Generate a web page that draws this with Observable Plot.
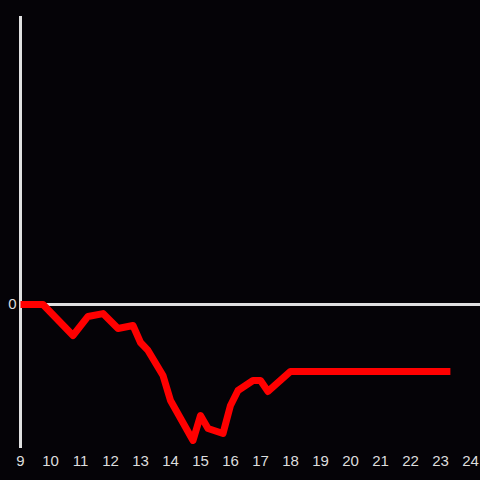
<!DOCTYPE html>
<html>
<head>
<meta charset="utf-8">
<script src="https://cdn.jsdelivr.net/npm/d3@7"></script>
<script src="https://cdn.jsdelivr.net/npm/@observablehq/plot@0.6"></script>
<style>
  html, body { margin: 0; padding: 0; background: #050307; }
  #chart { width: 480px; height: 480px; }
</style>
</head>
<body>
<div id="chart"></div>
<script>
const hours = [9.0, 9.75, 10.75, 11.25, 11.75, 12.25, 12.75, 13.0, 13.25, 13.75, 14.0, 14.75, 15.0, 15.25, 15.75, 16.0, 16.25, 16.75, 17.0, 17.25, 18.0, 23.33];
const values = [0, 0, -0.215, -0.083, -0.063, -0.167, -0.146, -0.264, -0.319, -0.493, -0.667, -0.944, -0.771, -0.861, -0.896, -0.701, -0.597, -0.528, -0.528, -0.604, -0.465, -0.465];
const xTicks = [9, 10, 11, 12, 13, 14, 15, 16, 17, 18, 19, 20, 21, 22, 23, 24];
const yTicks = [0];

const data = hours.map((h, i) => ({hour: h, value: values[i]}));

const chart = Plot.plot({
  width: 480,
  height: 480,
  marginTop: 16,
  marginBottom: 32,
  marginLeft: 20,
  marginRight: 10,
  style: {background: "#050307", color: "#dddddd", fontFamily: "Liberation Sans, Arial, sans-serif", fontSize: "15px"},
  x: {domain: [9, 24]},
  y: {domain: [-1, 2]},
  marks: [
    Plot.axisX({ticks: xTicks, tickSize: 0, tickPadding: 7, tickFormat: d => String(d), label: null, fill: "#dddddd", fontSize: 15}),
    Plot.axisY({ticks: yTicks, tickSize: 0, tickPadding: 4, tickFormat: d => String(d), label: null, fill: "#dddddd", fontSize: 15}),
    Plot.ruleY([0], {stroke: "#e0e0e0", strokeWidth: 3, insetRight: -10}),
    Plot.ruleX([9], {stroke: "#e0e0e0", strokeWidth: 3}),
    Plot.line(data, {x: "hour", y: "value", stroke: "#ff0000", strokeWidth: 7, strokeLinecap: "butt", strokeLinejoin: "round"})
  ]
});
document.getElementById("chart").appendChild(chart);
</script>
</body>
</html>
